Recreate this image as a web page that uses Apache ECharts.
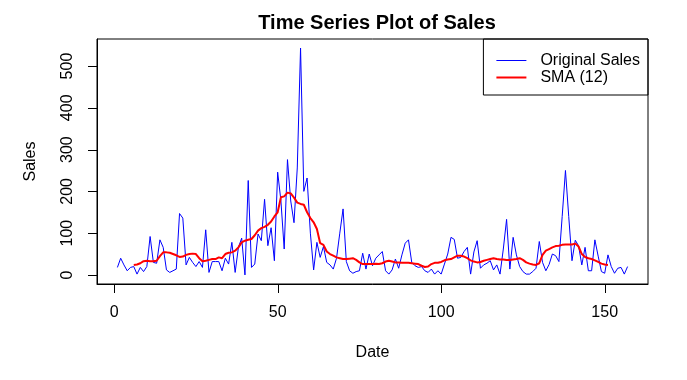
<!DOCTYPE html>
<html>
<head>
<meta charset="utf-8">
<script src="https://cdn.jsdelivr.net/npm/echarts@6/dist/echarts.min.js"></script>
<style>
html,body{margin:0;padding:0;background:#fff;}
#chart{width:687px;height:380px;}
</style>
</head>
<body>
<div id="chart"></div>
<script>
// Original sales, index 1..157
const sales = [
  18,40,24,10,18,20,2,18,8,20,
  92,30,28,84,66,12,6,10,14,147,
  136,24,42,30,20,32,18,108,6,32,
  32,32,10,40,26,78,6,66,88,0,
  226,18,26,98,82,181,70,113,34,246,
  177,62,276,177,125,256,543,200,232,100,
  12,78,42,68,30,24,14,40,100,158,
  32,10,4,8,10,52,14,50,22,40,
  48,56,10,2,12,38,16,48,76,84,
  30,22,18,20,10,6,14,2,10,2,
  26,50,90,85,40,42,56,66,2,55,
  82,16,24,28,34,12,24,2,62,133,
  14,90,48,20,8,2,2,8,16,80,
  30,10,25,50,46,32,140,250,140,34,
  83,70,24,66,10,10,84,45,8,4,
  48,20,4,16,18,2,20
];
// SMA(12) values, index 6..151
const smaStart = 6;
const sma12 = [
  24,25,28,33,34,33,33,34,45,54,
  54,53,50,47,43,44,48,50,51,50,
  40,33,34,36,38,38,42,40,50,53,
  54,58,66,78,82,84,86,95,106,112,
  115,120,128,140,150,186,188,197,195,185,
  173,170,168,150,136,126,110,76,72,56,
  50,46,42,40,38,38,39,40,36,30,
  26,26,26,26,27,26,28,32,34,32,
  30,30,29,29,29,28,27,26,22,19,
  20,26,29,29,31,35,37,38,42,46,
  46,44,40,35,32,30,31,34,36,38,
  40,38,37,37,36,36,37,38,40,36,
  30,27,25,24,28,48,58,62,66,69,
  70,72,73,73,73,75,68,50,43,40,
  38,35,31,27,25,24
];
const xTicks = [0, 50, 100, 150];
const yTicks = [0, 100, 200, 300, 400, 500];

const salesData = sales.map((v, i) => [i + 1, v]);
const smaData = sma12.map((v, i) => [i + smaStart, v]);

const FONT = 'Liberation Sans, Arial, sans-serif';
const GRID = {left: 97, right: 39, top: 39, bottom: 96};
const W = 687, H = 380;
const chart = echarts.init(document.getElementById('chart'), null, {renderer: 'canvas'});
chart.setOption({
  animation: false,
  backgroundColor: '#fff',
  title: {
    text: 'Time Series Plot of Sales',
    left: 372, top: 8, textAlign: 'center',
    textStyle: {fontFamily: FONT, fontSize: 20, fontWeight: 'bold', color: '#000'}
  },
  grid: Object.assign({show: true, borderColor: '#000', borderWidth: 1, backgroundColor: 'transparent'}, GRID),
  legend: {
    orient: 'vertical', right: 39, top: 39,
    padding: [13, 8, 9, 12],
    itemGap: 0, itemWidth: 30, itemHeight: 14,
    borderColor: '#000', borderWidth: 1, borderRadius: 0,
    itemStyle: {opacity: 0},
    lineStyle: {width: 'inherit'},
    textStyle: {fontFamily: FONT, fontSize: 16, color: '#000', lineHeight: 17, padding: [0, 0, 0, 9]},
    data: ['Original Sales', 'SMA (12)']
  },
  xAxis: {
    type: 'value', min: -5.24, max: 163.24,
    name: 'Date', nameLocation: 'middle', nameGap: 61,
    nameTextStyle: {fontFamily: FONT, fontSize: 16, color: '#000'},
    axisLine: {show: true, onZero: false, lineStyle: {color: '#000', width: 1}},
    splitLine: {show: false},
    axisTick: {show: false},
    axisLabel: {customValues: xTicks, margin: 21, fontFamily: FONT, fontSize: 16, color: '#000'}
  },
  yAxis: {
    type: 'value', min: -21.7, max: 564.7,
    name: 'Sales', nameLocation: 'middle', nameGap: 58, nameRotate: 90,
    nameTextStyle: {fontFamily: FONT, fontSize: 16, color: '#000'},
    axisLine: {show: true, onZero: false, lineStyle: {color: '#000', width: 1}},
    splitLine: {show: false},
    axisTick: {show: false},
    axisLabel: {customValues: yTicks, rotate: 90, margin: 21, fontFamily: FONT, fontSize: 16, color: '#000'}
  },
  series: [
    {
      name: 'Original Sales', type: 'line', data: salesData,
      symbol: 'none', lineStyle: {color: '#0000FF', width: 1}, itemStyle: {color: '#0000FF'}
    },
    {
      name: 'SMA (12)', type: 'line', data: smaData,
      symbol: 'none', lineStyle: {color: '#FF0000', width: 2}, itemStyle: {color: '#FF0000'}
    }
  ]
});

// Tick marks placed through the chart's own scales
const bottomY = H - GRID.bottom;
const leftX = GRID.left;
const tickLen = 9;
const tickEls = [];
xTicks.forEach(v => {
  const px = Math.round(chart.convertToPixel({xAxisIndex: 0}, v)) + 0.5;
  tickEls.push({type: 'line', silent: true, shape: {x1: px, y1: bottomY, x2: px, y2: bottomY + tickLen},
    style: {stroke: '#000', lineWidth: 1}});
});
yTicks.forEach(v => {
  const py = Math.round(chart.convertToPixel({yAxisIndex: 0}, v)) + 0.5;
  tickEls.push({type: 'line', silent: true, shape: {x1: leftX - tickLen, y1: py, x2: leftX, y2: py},
    style: {stroke: '#000', lineWidth: 1}});
});
chart.setOption({graphic: tickEls});
</script>
</body>
</html>
